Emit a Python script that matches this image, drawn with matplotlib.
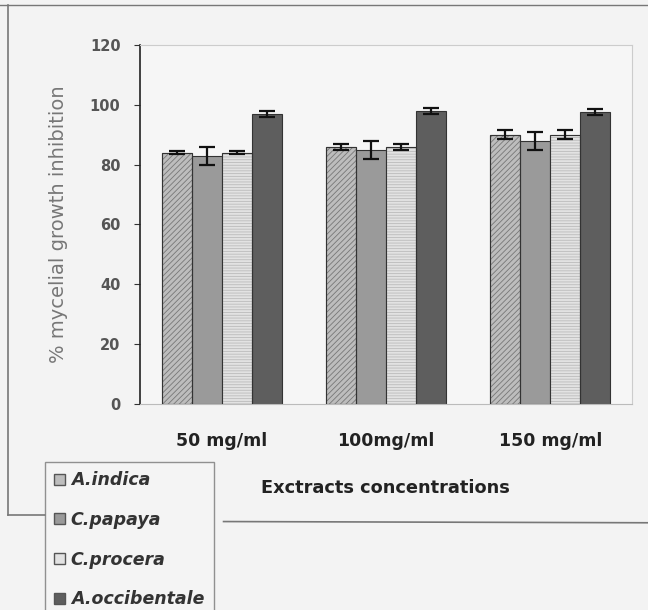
import matplotlib
matplotlib.use("Agg")
import matplotlib.pyplot as plt
import numpy as np
from matplotlib.lines import Line2D
from matplotlib.patches import Patch

plt.rcParams['font.family'] = ['DejaVu Sans']
plt.rcParams['hatch.linewidth'] = 0.6

categories = ["50 mg/ml", "100mg/ml", "150 mg/ml"]
series = ["A.indica", "C.papaya", "C.procera", "A.occibentale"]
a_indica = [84, 86, 90]
c_papaya = [83, 85, 88]
c_procera = [84, 86, 90]
a_occ = [97, 98, 97.5]
err_indica = [0.5, 1, 1.5]
err_papaya = [3, 3, 3]
err_procera = [0.5, 1, 1.5]
err_occ = [1, 1, 1]

values = [a_indica, c_papaya, c_procera, a_occ]
errors = [err_indica, err_papaya, err_procera, err_occ]
faces = ["#bdbdbd", "#9a9a9a", "#e2e2e2", "#5e5e5e"]
hatches = ["//////", None, "------", None]
hatch_cols = ["#777777", None, "#bbbbbb", None]

fig = plt.figure(figsize=(6.48, 6.10), dpi=100)
fig.patch.set_facecolor("#f3f3f3")
ax = fig.add_axes([0.216, 0.338, 0.76, 0.588])
ax.set_facecolor("#f6f6f6")

x = np.arange(len(categories))
w = 0.183
offsets = np.array([-1.5, -0.5, 0.5, 1.5]) * w
for i in range(4):
    bars = ax.bar(x + offsets[i], values[i], width=w, color=faces[i],
                  edgecolor="#333333", linewidth=0.8, label=series[i], zorder=2)
    if hatches[i]:
        for b in bars:
            b.set_hatch(hatches[i])
            b.set_edgecolor(hatch_cols[i])
        ax.bar(x + offsets[i], values[i], width=w, color="none",
               edgecolor="#333333", linewidth=0.8, zorder=3)
    ax.errorbar(x + offsets[i], values[i], yerr=errors[i], fmt="none",
                ecolor="#111111", elinewidth=1.6, capsize=6, capthick=1.6, zorder=4)

ax.set_xlim(-0.5, 2.5)
ax.set_ylim(0, 120)
ax.set_yticks(range(0, 121, 20))
ax.set_yticklabels([str(v) for v in range(0, 121, 20)], fontsize=10.5,
                   fontweight="bold", color="#555555")
ax.set_xticks(x)
ax.set_xticklabels(categories, fontsize=12.5, fontweight="bold", color="#222222")
ax.tick_params(axis="x", length=0, pad=20)
ax.tick_params(axis="y", length=4, color="#333333", pad=10)
for s in ["top", "right"]:
    ax.spines[s].set_color("#cccccc")
    ax.spines[s].set_linewidth(0.8)
ax.spines["left"].set_color("#222222")
ax.spines["left"].set_linewidth(1.2)
ax.spines["bottom"].set_color("#bbbbbb")
ax.set_ylabel("% mycelial growth inhibition", fontsize=14, color="#777777", labelpad=16)
fig.text(0.595, 0.2, "Exctracts concentrations", ha="center", va="center",
         fontsize=12.8, fontweight="bold", color="#222222")

# outer frame lines
fig.add_artist(Line2D([0.0, 1.0], [0.992, 0.992], transform=fig.transFigure, color="#777777", lw=1.0))
fig.add_artist(Line2D([0.013, 0.013], [0.992, 0.155], transform=fig.transFigure, color="#777777", lw=1.2))
fig.add_artist(Line2D([0.013, 0.07], [0.155, 0.155], transform=fig.transFigure, color="#777777", lw=1.2))
fig.add_artist(Line2D([0.345, 1.0], [0.145, 0.143], transform=fig.transFigure, color="#777777", lw=1.2))

handles = [Patch(facecolor=faces[i], edgecolor="#555555") for i in range(4)]
leg = fig.legend(handles, series, loc="upper left", bbox_to_anchor=(0.069, 0.243),
                 frameon=True, fancybox=False, edgecolor="#777777", facecolor="#f5f5f5",
                 handlelength=0.6, handleheight=0.6, handletextpad=0.35,
                 labelspacing=1.25, borderpad=0.55, borderaxespad=0,
                 prop={"style": "oblique", "weight": "bold", "size": 12.5})
for t in leg.get_texts():
    t.set_color("#333333")

fig.savefig("out.png", dpi=100, facecolor=fig.get_facecolor())
